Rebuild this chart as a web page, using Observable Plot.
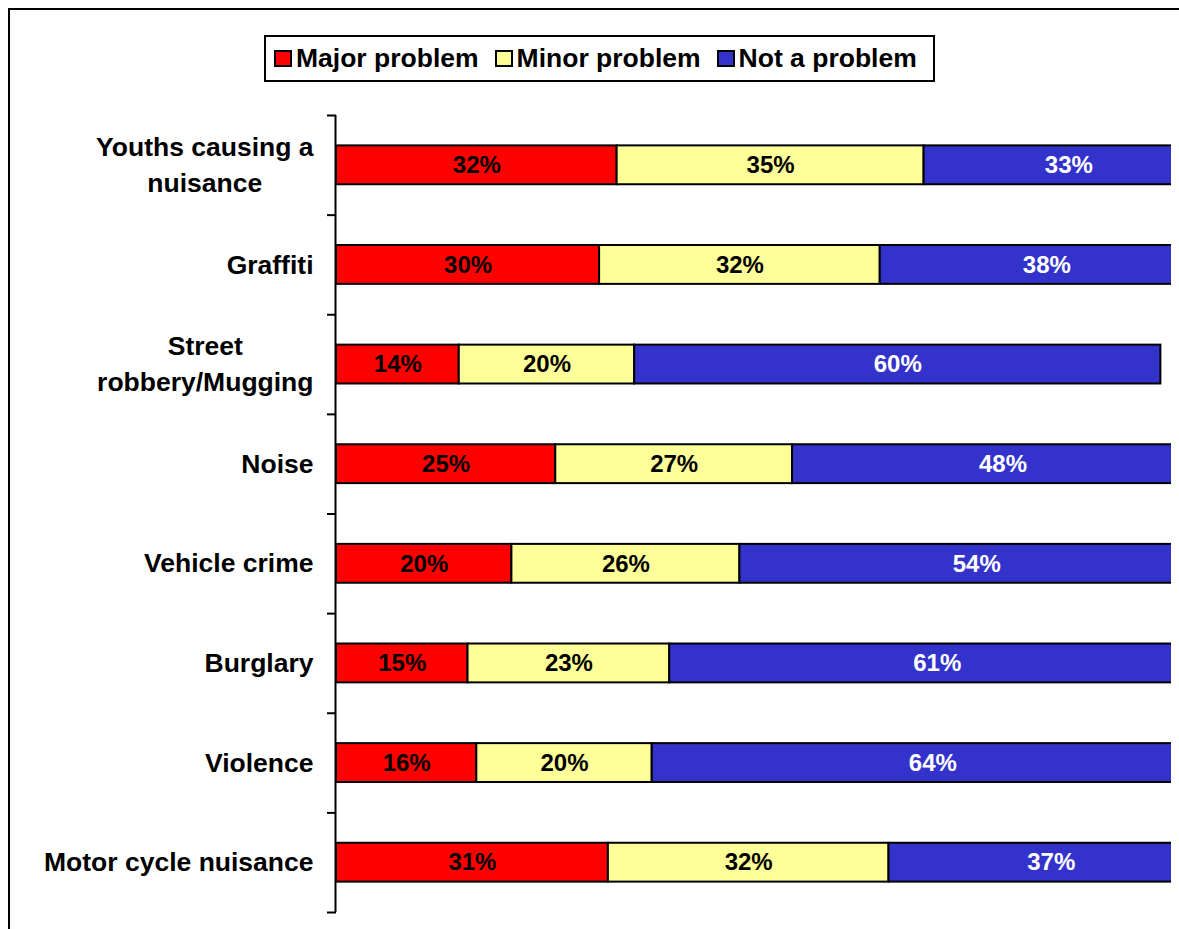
<!DOCTYPE html>
<html>
<head>
<meta charset="utf-8">
<script src="https://cdn.jsdelivr.net/npm/d3@7"></script>
<script src="https://cdn.jsdelivr.net/npm/@observablehq/plot@0.6"></script>
<style>
  html, body { margin: 0; padding: 0; background: #fff; }
  #wrap { position: relative; width: 1179px; height: 929px; overflow: hidden; font-family: "Liberation Sans", Arial, sans-serif; }
  #frame { position: absolute; left: 8px; top: 8px; width: 1300px; height: 1000px; border: 2px solid #000; box-sizing: border-box; }
  #chart { position: absolute; left: 0; top: 0; }
  #legend { position: absolute; left: 264px; top: 35px; width: 671px; height: 47px; border: 2px solid #000; box-sizing: border-box; background: #fff;
            display: flex; align-items: center; padding-left: 8px; font-weight: bold; font-size: 26.5px; color: #000; }
  .sw { width: 18px; height: 17px; border: 2px solid #000; box-sizing: border-box; margin-right: 4px; flex: none; }
  .item { display: flex; align-items: center; margin-right: 16px; white-space: nowrap; }
</style>
</head>
<body>
<div id="wrap">
  <div id="frame"></div>
  <div id="chart"></div>
  <div id="legend"></div>
</div>
<script>
const categories = ["Youths causing a\nnuisance", "Graffiti", "Street\nrobbery/Mugging", "Noise", "Vehicle crime", "Burglary", "Violence", "Motor cycle nuisance"];
const seriesNames = ["Major problem", "Minor problem", "Not a problem"];
const seriesColors = ["#FF0000", "#FFFF99", "#3333CC"];
const majorProblem = [32, 30, 14, 25, 20, 15, 16, 31];
const minorProblem = [35, 32, 20, 27, 26, 23, 20, 32];
const notAProblem  = [33, 38, 60, 48, 54, 61, 64, 37];

const seriesValues = [majorProblem, minorProblem, notAProblem];
const rows = [];
categories.forEach((c, i) => {
  let acc = 0;
  seriesValues.forEach((arr, k) => {
    rows.push({cat: c, i, series: seriesNames[k], x1: acc, x2: acc + arr[i], value: arr[i]});
    acc += arr[i];
  });
});

const pad = 0.305;
const catSize = 26.5;
const ctx = document.createElement("canvas").getContext("2d");
ctx.font = `bold ${catSize}px 'Liberation Sans', Arial, sans-serif`;
const catWidth = c => d3.max(c.split("\n"), s => ctx.measureText(s).width);

const catMarks = categories.map((c, i) => Plot.text([c], {
  x: () => 0, y: () => i + 0.5, text: d => d,
  textAnchor: "middle", dx: -23 - catWidth(c) / 2, dy: -3,
  lineHeight: 1.37, fontSize: catSize, fontWeight: "bold", fill: "black"
}));

const chart = Plot.plot({
  width: 1179, height: 929,
  marginLeft: 336, marginRight: 8, marginTop: 115, marginBottom: 17,
  style: {fontFamily: "'Liberation Sans', Arial, sans-serif", background: "transparent"},
  x: {domain: [0, 100], range: [336, 1213], axis: null},
  y: {domain: [0, categories.length], range: [115, 912]},
  color: {domain: seriesNames, range: seriesColors},
  marks: [
    Plot.rect(rows, {x1: "x1", x2: "x2", y1: d => d.i + pad, y2: d => d.i + 1 - pad, fill: "series", stroke: "black", strokeWidth: 2, clip: true}),
    Plot.text(rows, {filter: d => d.series !== "Not a problem", x: d => (d.x1 + d.x2) / 2, y: d => d.i + 0.5, text: d => d.value + "%", fill: "black", fontSize: 24, fontWeight: "bold", clip: true}),
    Plot.text(rows, {filter: d => d.series === "Not a problem", x: d => (d.x1 + d.x2) / 2, y: d => d.i + 0.5, text: d => d.value + "%", fill: "white", fontSize: 24, fontWeight: "bold", clip: true}),
    Plot.ruleX([0], {y1: 0, y2: categories.length, stroke: "black", strokeWidth: 2, dx: -1}),
    Plot.axisY({ticks: d3.range(0, categories.length + 1), tickSize: 9, tickFormat: () => "", label: null, stroke: "black", strokeWidth: 2}),
    ...catMarks
  ]
});
document.getElementById("chart").appendChild(chart);

const legend = document.getElementById("legend");
seriesNames.forEach((s, k) => {
  const item = document.createElement("div");
  item.className = "item";
  const sw = document.createElement("div");
  sw.className = "sw";
  sw.style.background = seriesColors[k];
  const t = document.createElement("span");
  t.textContent = s;
  item.appendChild(sw);
  item.appendChild(t);
  legend.appendChild(item);
});
</script>
</body>
</html>
